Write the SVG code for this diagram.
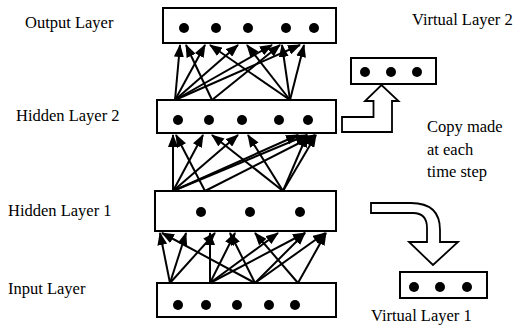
<svg xmlns="http://www.w3.org/2000/svg" width="517" height="326" viewBox="0 0 517 326">
<style>
.box{fill:#fff;stroke:#000;stroke-width:2}
.dot{fill:#000}
.lbl{font-family:"Liberation Serif","Times New Roman",serif;font-size:16.5px;fill:#000}
.c line{stroke:#000;stroke-width:2;marker-end:url(#ah)}
.big{fill:#fff;stroke:#000;stroke-width:1.8;stroke-linejoin:miter}
</style>
<defs>
<marker id="ah" markerUnits="userSpaceOnUse" markerWidth="13" markerHeight="10" refX="12" refY="5" orient="auto">
<path d="M0,0 L13,5 L0,10 z" fill="#000"/>
</marker>
</defs>
<rect width="517" height="326" fill="#fff"/>

<g id="connectors" class="c">
<!-- Hidden 2 -> Output -->
<line x1="175" y1="100" x2="180" y2="45"/>
<line x1="175" y1="100" x2="205" y2="45"/>
<line x1="175" y1="100" x2="238" y2="45"/>
<line x1="175" y1="100" x2="272" y2="45"/>
<line x1="175" y1="100" x2="300" y2="45"/>
<line x1="212" y1="100" x2="186" y2="45"/>
<line x1="212" y1="100" x2="280" y2="45"/>
<line x1="290" y1="100" x2="210" y2="45"/>
<line x1="290" y1="100" x2="247" y2="45"/>
<line x1="290" y1="100" x2="282" y2="45"/>
<line x1="290" y1="100" x2="304" y2="45"/>
<!-- Hidden 1 -> Hidden 2 -->
<line x1="173" y1="191" x2="173" y2="135"/>
<line x1="173" y1="191" x2="203" y2="135"/>
<line x1="173" y1="191" x2="238" y2="135"/>
<line x1="173" y1="191" x2="298" y2="135"/>
<line x1="173" y1="191" x2="307" y2="135"/>
<line x1="205" y1="191" x2="176" y2="135"/>
<line x1="205" y1="191" x2="315" y2="135"/>
<line x1="283" y1="191" x2="212" y2="135"/>
<line x1="283" y1="191" x2="248" y2="135"/>
<line x1="283" y1="191" x2="307" y2="135"/>
<line x1="283" y1="191" x2="316" y2="135"/>
<!-- Input -> Hidden 1 -->
<line x1="170" y1="283" x2="160" y2="233"/>
<line x1="170" y1="283" x2="186" y2="233"/>
<line x1="170" y1="283" x2="215" y2="233"/>
<line x1="210" y1="283" x2="210" y2="233"/>
<line x1="210" y1="283" x2="235" y2="233"/>
<line x1="210" y1="283" x2="278" y2="233"/>
<line x1="210" y1="283" x2="305" y2="233"/>
<line x1="255" y1="283" x2="162" y2="233"/>
<line x1="255" y1="283" x2="230" y2="233"/>
<line x1="255" y1="283" x2="305" y2="233"/>
<line x1="255" y1="283" x2="325" y2="233"/>
<line x1="298" y1="283" x2="255" y2="233"/>
<line x1="298" y1="283" x2="326" y2="233"/>
</g>

<g id="output-layer">
<rect class="box" x="163" y="8" width="173" height="35"/>
<circle class="dot" cx="184" cy="28" r="5"/>
<circle class="dot" cx="216" cy="28" r="5"/>
<circle class="dot" cx="248" cy="28" r="5"/>
<circle class="dot" cx="286" cy="28" r="5"/>
<circle class="dot" cx="314" cy="28" r="5"/>
</g>

<g id="hidden-layer-2">
<rect class="box" x="157" y="100" width="179" height="33"/>
<circle class="dot" cx="178" cy="120" r="5"/>
<circle class="dot" cx="209" cy="120" r="5"/>
<circle class="dot" cx="242" cy="120" r="5"/>
<circle class="dot" cx="279" cy="120" r="5"/>
<circle class="dot" cx="308" cy="120" r="5"/>
</g>

<g id="hidden-layer-1">
<rect class="box" x="155" y="191" width="181" height="40"/>
<circle class="dot" cx="201" cy="212" r="5"/>
<circle class="dot" cx="250" cy="212" r="5"/>
<circle class="dot" cx="300" cy="212" r="5"/>
</g>

<g id="input-layer">
<rect class="box" x="157" y="283" width="179" height="34"/>
<circle class="dot" cx="178" cy="305" r="5"/>
<circle class="dot" cx="206" cy="305" r="5"/>
<circle class="dot" cx="237" cy="305" r="5"/>
<circle class="dot" cx="269" cy="305" r="5"/>
<circle class="dot" cx="295" cy="305" r="5"/>
</g>

<g id="virtual-layer-2">
<rect class="box" x="351" y="58" width="85" height="26"/>
<circle class="dot" cx="365" cy="72" r="5"/>
<circle class="dot" cx="391" cy="72" r="5"/>
<circle class="dot" cx="417" cy="72" r="5"/>
</g>

<g id="virtual-layer-1">
<rect class="box" x="400" y="272" width="87" height="26"/>
<circle class="dot" cx="414" cy="287" r="5"/>
<circle class="dot" cx="440" cy="287" r="5"/>
<circle class="dot" cx="467" cy="287" r="5"/>
</g>

<g id="copy-arrow-up">
<path class="big" d="M342,117 L342,132 L392,132 L392,101 L398.5,101 L381.5,85 L365,101 L373.5,101 L373.5,117 Z"/>
</g>

<g id="copy-arrow-down">
<path class="big" d="M371,203 L411,203 Q440,203 440,230 L440,242 L458,242 L433,265 L409,242 L427,242 L427,228 Q427,213 413,213 L371,213 Z"/>
</g>

<g id="labels">
<text class="lbl" x="25" y="28">Output Layer</text>
<text class="lbl" x="16" y="121">Hidden Layer 2</text>
<text class="lbl" x="8" y="216">Hidden Layer 1</text>
<text class="lbl" x="8" y="294">Input Layer</text>
<text class="lbl" x="412" y="25">Virtual Layer 2</text>
<text class="lbl" x="427" y="132">Copy made</text>
<text class="lbl" x="427" y="154.5">at each</text>
<text class="lbl" x="427" y="177">time step</text>
<text class="lbl" x="371" y="321">Virtual Layer 1</text>
</g>
</svg>
